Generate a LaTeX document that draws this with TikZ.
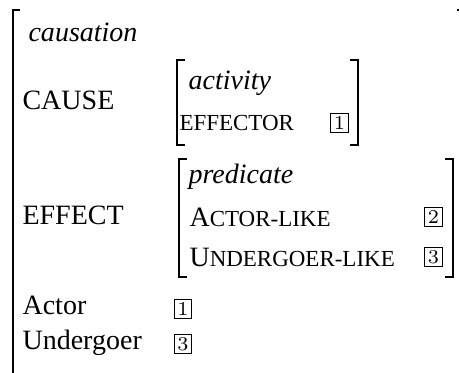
\documentclass[tikz,border=0pt]{standalone}
\usepackage{fontspec}
\setmainfont{LiberationSerif}[Extension=.ttf, UprightFont=*-Regular,
  ItalicFont=*-Italic, BoldFont=*-Bold, BoldItalicFont=*-BoldItalic]
\usetikzlibrary{positioning}
% fake small caps: capitals set smaller
\newcommand\smc[1]{{\fontsize{8.2}{9}\selectfont #1}}
\tikzset{
  feat/.style={anchor=base west, inner sep=0pt, font=\fontsize{10}{12}\selectfont},
  tagbox/.style={draw, line width=0.35pt, inner sep=0pt, minimum width=6.4pt,
    minimum height=6.6pt, font=\fontfamily{lmr}\fontsize{7}{8}\selectfont},
  brk/.style={line width=0.55pt},
}
\begin{document}
\begin{tikzpicture}[x=0.357pt, y=-0.357pt]
\useasboundingbox (0,0) rectangle (459,373);
\clip (0,0) rectangle (459,373);
% outer matrix
\draw[brk] (20,10) -- (13,10) -- (13,390);
\draw[brk] (457,10) -- (466,10) -- (466,390);
\node[feat] (causation) at (28,42) {\textit{causation}};
\node[feat] (cause) at (22,110) {CAUSE};
\node[feat] (effect) at (22,225) {EFFECT};
\node[feat] (actor) at (22,315) {Actor};
\node[feat] (undergoer) at (22,350) {Undergoer};
\node[tagbox] (tagA) at (183,309) {1};
\node[tagbox] (tagU) at (183,344) {3};
% CAUSE value
\draw[brk] (185,60) -- (177,60) -- (177,145) -- (185,145);
\draw[brk] (350,60) -- (358,60) -- (358,145) -- (350,145);
\node[feat] (activity) at (188,90) {\textit{activity}};
\node[feat] (effector) at (179,131) {\smc{EFFECTOR}};
\node[tagbox] (tag1) at (339.5,123) {1};
% EFFECT value
\draw[brk] (187,159) -- (179,159) -- (179,277) -- (187,277);
\draw[brk] (445,159) -- (453,159) -- (453,277) -- (445,277);
\node[feat] (predicate) at (188,184) {\textit{predicate}};
\node[feat] (actorlike) at (189,227) {A\smc{CTOR-LIKE}};
\node[feat] (undlike) at (189,267) {U\smc{NDERGOER-LIKE}};
\node[tagbox] (tag2) at (433.5,217) {2};
\node[tagbox] (tag3) at (433.5,257) {3};
\end{tikzpicture}
\end{document}
